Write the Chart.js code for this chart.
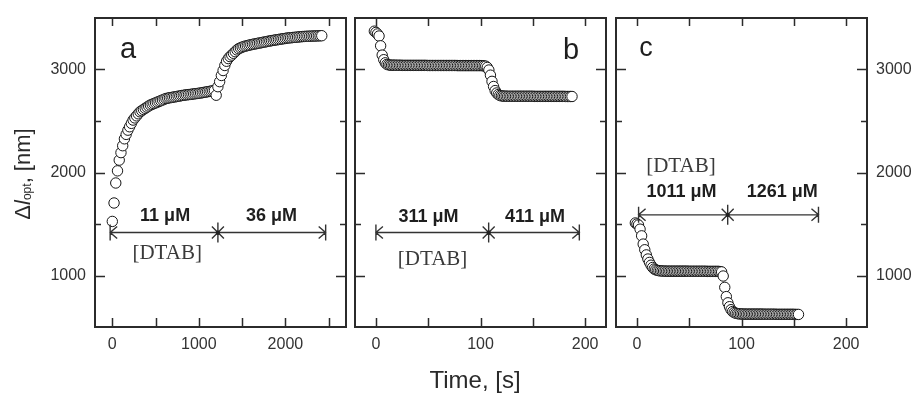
<!DOCTYPE html>
<html>
<head>
<meta charset="utf-8">
<script src="https://cdn.jsdelivr.net/npm/chart.js@4/dist/chart.umd.min.js"></script>
<style>
  html, body { margin: 0; padding: 0; background: #fff; }
  #wrap { position: relative; width: 913px; height: 396px; overflow: hidden; }
  #wrap canvas { position: absolute; left: 0; top: 0; }
</style>
</head>
<body>
<div id="wrap">
  <canvas id="panelA" width="913" height="396"></canvas>
  <canvas id="panelB" width="913" height="396"></canvas>
  <canvas id="panelC" width="913" height="396"></canvas>
</div>
<script>
// ---- Panel a: optical thickness change, 11 µM then 36 µM DTAB (sampled every 20 s) ----
const timeStartA = 0, timeStepA = 20;
const valuesA = [
  1525, 1704, 1898, 2016, 2120, 2193, 2260, 2327, 2370, 2411,
  2444, 2477, 2509, 2530, 2550, 2570, 2589, 2600, 2612, 2623,
  2634, 2645, 2655, 2662, 2669, 2676, 2683, 2690, 2697, 2704,
  2711, 2718, 2722, 2725, 2728, 2731, 2734, 2737, 2740, 2743,
  2747, 2749, 2752, 2754, 2756, 2758, 2760, 2763, 2765, 2767,
  2769, 2772, 2775, 2778, 2781, 2784, 2787, 2790, 2793, 2796,
  2750, 2833, 2882, 2942, 2990, 3039, 3080, 3106, 3125, 3140,
  3157, 3173, 3190, 3202, 3210, 3217, 3223, 3228, 3232, 3236,
  3240, 3244, 3247, 3250, 3254, 3257, 3260, 3264, 3267, 3270,
  3274, 3277, 3280, 3283, 3286, 3288, 3291, 3294, 3297, 3299,
  3302, 3305, 3307, 3308, 3310, 3312, 3313, 3315, 3317, 3318,
  3320, 3321, 3322, 3323, 3323, 3324, 3325, 3325, 3326, 3327,
  3327, 3328
];

// ---- Panel b: 311 µM then 411 µM DTAB (sampled every 1.5 s) ----
const timeStartB = -1.5, timeStepB = 1.5;
const valuesB = [
  3372, 3360, 3345, 3325, 3230, 3140, 3095, 3065, 3050, 3045,
  3043, 3042, 3042, 3042, 3041, 3041, 3041, 3041, 3040, 3040,
  3040, 3040, 3040, 3040, 3040, 3040, 3040, 3040, 3040, 3040,
  3040, 3040, 3040, 3040, 3039, 3039, 3039, 3039, 3039, 3039,
  3039, 3039, 3039, 3039, 3039, 3039, 3039, 3039, 3039, 3039,
  3039, 3039, 3039, 3038, 3038, 3038, 3038, 3038, 3038, 3038,
  3038, 3038, 3038, 3038, 3038, 3038, 3038, 3038, 3038, 3037,
  3035, 3032, 3020, 2995, 2945, 2885, 2835, 2795, 2772, 2757,
  2748, 2744, 2742, 2741, 2741, 2740, 2740, 2740, 2740, 2740,
  2740, 2740, 2740, 2740, 2740, 2740, 2740, 2740, 2740, 2740,
  2740, 2740, 2739, 2739, 2739, 2739, 2739, 2739, 2739, 2739,
  2739, 2739, 2739, 2739, 2739, 2739, 2739, 2739, 2739, 2739,
  2739, 2739, 2738, 2738, 2738, 2738, 2738
];

// ---- Panel c: 1011 µM then 1261 µM DTAB (sampled every 1.5 s) ----
const timeStartC = -1.5, timeStepC = 1.5;
const valuesC = [
  1510, 1500, 1490, 1450, 1385, 1305, 1250, 1200, 1160, 1127,
  1100, 1078, 1063, 1055, 1050, 1047, 1045, 1044, 1043, 1043,
  1042, 1042, 1042, 1042, 1042, 1042, 1042, 1042, 1042, 1042,
  1042, 1042, 1042, 1042, 1041, 1041, 1041, 1041, 1041, 1041,
  1041, 1041, 1041, 1041, 1041, 1041, 1040, 1040, 1040, 1040,
  1040, 1040, 1040, 1040, 1038, 1035, 995, 885, 795, 735,
  697, 668, 650, 640, 634, 630, 628, 627, 626, 626,
  625, 625, 625, 625, 625, 625, 625, 625, 625, 625,
  625, 625, 624, 624, 624, 624, 624, 624, 624, 624,
  623, 623, 623, 623, 623, 623, 623, 623, 623, 623,
  623, 623, 622, 622, 622
];

// Surfactant additions: start, change of concentration, end (time axis units)
const additionsA = [-25, 1220, 2465];
const additionsB = [0, 107.8, 194.5];
const additionsC = [1.6, 86.8, 173.6];
const concA = ['11 μM', '36 μM'];
const concB = ['311 μM', '411 μM'];
const concC = ['1011 μM', '1261 μM'];
const surfactant = '[DTAB]';
const panelNames = ['a', 'b', 'c'];

// Axis ticks
const xTicksA = [0, 500, 1000, 1500, 2000, 2500];
const xLabelsA = [0, 1000, 2000];
const xTicksBC = [0, 50, 100, 150, 200];
const xLabelsBC = [0, 100, 200];
const yTicks = [1000, 1500, 2000, 2500, 3000];
const yLabels = [1000, 2000, 3000];
const xTitle = 'Time, [s]';

const SANS = "'Liberation Sans', Arial, sans-serif";
const SERIF = "'Liberation Serif', 'Times New Roman', serif";
const INK = '#2b2b2b';

function toPoints(start, step, values) {
  return values.map((v, i) => ({ x: start + i * step, y: v }));
}

function zeroPad(s) {
  s.paddingLeft = 0; s.paddingRight = 0; s.paddingTop = 0; s.paddingBottom = 0;
}

function xAxis(min, max, ticks, labels) {
  return {
    type: 'linear', position: 'bottom', min, max,
    afterBuildTicks: s => { s.ticks = ticks.map(v => ({ value: v })); },
    afterFit: s => { s.height = 30; zeroPad(s); },
    grid: { display: false, drawTicks: false },
    border: { display: false },
    ticks: {
      padding: 8, color: '#333', autoSkip: false, maxRotation: 0,
      font: { family: SANS, size: 16 },
      callback: v => (labels.includes(v) ? String(v) : '')
    }
  };
}

function yAxis(position, show, width) {
  return {
    type: 'linear', position, min: 500, max: 3500, display: show,
    afterBuildTicks: s => { s.ticks = yTicks.map(v => ({ value: v })); },
    afterFit: s => { s.width = width; zeroPad(s); },
    grid: { display: false, drawTicks: false },
    border: { display: false },
    ticks: {
      padding: 9, color: '#333', autoSkip: false,
      font: { family: SANS, size: 16 },
      callback: v => (yLabels.includes(v) ? String(v) : '')
    }
  };
}

// Frame, inward ticks, concentration arrows and labels of one panel
const panelDecor = {
  id: 'panelDecor',
  afterDatasetsDraw(chart, _args, o) {
    const { ctx, chartArea: ca, scales: { x, y } } = chart;
    ctx.save();

    // inward tick marks on all four sides
    ctx.strokeStyle = INK;
    ctx.lineWidth = 1.5;
    ctx.beginPath();
    o.xTicks.forEach(v => {
      const px = Math.round(x.getPixelForValue(v)) + 0.5;
      ctx.moveTo(px, ca.bottom); ctx.lineTo(px, ca.bottom - 9);
      ctx.moveTo(px, ca.top); ctx.lineTo(px, ca.top + 8);
    });
    yTicks.forEach(v => {
      const py = Math.round(y.getPixelForValue(v)) + 0.5;
      const len = yLabels.includes(v) ? 10 : 6;
      ctx.moveTo(ca.left, py); ctx.lineTo(ca.left + len, py);
      ctx.moveTo(ca.right, py); ctx.lineTo(ca.right - len, py);
    });
    ctx.stroke();

    // frame
    ctx.lineWidth = 2;
    ctx.strokeRect(ca.left, ca.top, ca.right - ca.left, ca.bottom - ca.top);

    // addition arrows: |<---- * ---->|
    const ly = y.getPixelForValue(o.level);
    const [x0, x1, x2] = o.additions.map(t => x.getPixelForValue(t));
    ctx.lineWidth = 1.4;
    ctx.strokeStyle = '#333';
    ctx.beginPath();
    ctx.moveTo(x0, ly); ctx.lineTo(x2, ly);
    ctx.moveTo(x0, ly - 8); ctx.lineTo(x0, ly + 8);
    ctx.moveTo(x2, ly - 8); ctx.lineTo(x2, ly + 8);
    ctx.moveTo(x0 + 7, ly - 6); ctx.lineTo(x0, ly); ctx.lineTo(x0 + 7, ly + 6);
    ctx.moveTo(x2 - 7, ly - 6); ctx.lineTo(x2, ly); ctx.lineTo(x2 - 7, ly + 6);
    ctx.moveTo(x1, ly - 10); ctx.lineTo(x1, ly + 10);
    ctx.moveTo(x1 - 6, ly - 6); ctx.lineTo(x1 + 6, ly + 6);
    ctx.moveTo(x1 - 6, ly + 6); ctx.lineTo(x1 + 6, ly - 6);
    ctx.stroke();
    ctx.fillStyle = '#222';
    ctx.beginPath(); ctx.arc(x1, ly, 2, 0, Math.PI * 2); ctx.fill();

    // concentration labels
    ctx.fillStyle = '#1e1e1e';
    ctx.textAlign = 'center';
    ctx.textBaseline = 'alphabetic';
    ctx.font = `bold 18px ${SANS}`;
    o.conc.forEach((txt, i) => {
      ctx.fillText(txt, x.getPixelForValue(o.concAt[i]), y.getPixelForValue(o.concLevel));
    });
    ctx.fillStyle = '#3a3a3a';
    ctx.font = `21px ${SERIF}`;
    ctx.fillText(surfactant, x.getPixelForValue(o.tagAt[0]), y.getPixelForValue(o.tagAt[1]));

    // panel letter
    ctx.fillStyle = '#1e1e1e';
    ctx.font = `${o.letterSize}px ${SANS}`;
    ctx.fillText(o.letter, o.letterPos[0], o.letterPos[1]);

    // shared axis titles (drawn once)
    if (o.titles) {
      ctx.fillStyle = '#2a2a2a';
      ctx.font = `24px ${SANS}`;
      ctx.fillText(xTitle, 475, 388);

      ctx.translate(30, 174);
      ctx.rotate(-Math.PI / 2);
      const parts = [
        { t: 'Δ', f: `22px ${SANS}`, dy: 0 },
        { t: 'l', f: `italic 22px ${SANS}`, dy: 0 },
        { t: 'opt', f: `12px ${SANS}`, dy: 1 },
        { t: ', [nm]', f: `22px ${SANS}`, dy: 0 }
      ];
      let total = 0;
      parts.forEach(p => { ctx.font = p.f; p.w = ctx.measureText(p.t).width; total += p.w; });
      let cx = -total / 2;
      ctx.textAlign = 'left';
      parts.forEach(p => { ctx.font = p.f; ctx.fillText(p.t, cx, p.dy); cx += p.w; });
    }
    ctx.restore();
  }
};

function makePanel(id, points, scales, padding, decor) {
  return new Chart(document.getElementById(id), {
    type: 'scatter',
    data: {
      datasets: [{
        data: points,
        pointRadius: 5.2,
        pointBorderWidth: 1,
        pointBorderColor: '#151515',
        pointBackgroundColor: '#ffffff',
        showLine: false
      }]
    },
    options: {
      responsive: false,
      animation: false,
      events: [],
      layout: { padding },
      scales,
      plugins: { legend: { display: false }, tooltip: { enabled: false }, panelDecor: decor }
    },
    plugins: [panelDecor]
  });
}

// a
makePanel('panelA', toPoints(timeStartA, timeStepA, valuesA),
  { x: xAxis(-200, 2700, xTicksA, xLabelsA), y: yAxis('left', true, 95) },
  { left: 0, top: 18, right: 913 - 346, bottom: 396 - 327 - 30 },
  {
    xTicks: xTicksA, additions: additionsA, level: 1418,
    conc: concA, concAt: [610, 1840], concLevel: 1525, tagAt: [634, 1164],
    letter: panelNames[0], letterSize: 29, letterPos: [128, 58], titles: true
  });

// b
makePanel('panelB', toPoints(timeStartB, timeStepB, valuesB),
  { x: xAxis(-20, 220, xTicksBC, xLabelsBC), y: yAxis('left', false, 0) },
  { left: 355, top: 18, right: 913 - 606, bottom: 396 - 327 - 30 },
  {
    xTicks: xTicksBC, additions: additionsB, level: 1418,
    conc: concB, concAt: [50.2, 152.2], concLevel: 1519, tagAt: [54.2, 1106],
    letter: panelNames[1], letterSize: 29, letterPos: [571, 59], titles: false
  });

// c
makePanel('panelC', toPoints(timeStartC, timeStepC, valuesC),
  { x: xAxis(-20, 220, xTicksBC, xLabelsBC), y: yAxis('right', true, 46) },
  { left: 616, top: 18, right: 0, bottom: 396 - 327 - 30 },
  {
    xTicks: xTicksBC, additions: additionsC, level: 1589,
    conc: concC, concAt: [42.6, 138.9], concLevel: 1760, tagAt: [42.1, 2008],
    letter: panelNames[2], letterSize: 27, letterPos: [646, 56], titles: false
  });
</script>
</body>
</html>
